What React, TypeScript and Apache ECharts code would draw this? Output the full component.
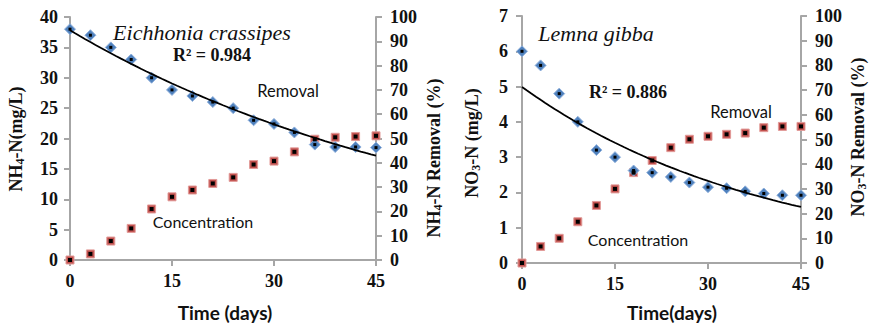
import React, { useEffect, useRef } from "react";
import * as echarts from "echarts";

const DAYS = [0, 3, 6, 9, 12, 15, 18, 21, 24, 27, 30, 33, 36, 39, 42, 45];
const NH4_CONC = [38, 37, 35, 33, 30, 28, 27, 26, 25, 23, 22.4, 21, 19, 18.6, 18.6, 18.5];
const NH4_REMOVAL = [0, 2.5, 7.8, 13, 21, 26, 28.8, 31.5, 34, 39.3, 40.7, 44.5, 49.7, 50.5, 50.8, 51.1];
const NO3_CONC = [6, 5.6, 4.8, 4, 3.2, 3, 2.62, 2.56, 2.44, 2.28, 2.15, 2.12, 2.03, 1.97, 1.92, 1.92];
const NO3_REMOVAL = [0, 6.7, 10, 16.7, 23.3, 30, 36.6, 41.5, 46.7, 50.1, 51.3, 52.1, 52.6, 54.8, 55.3, 55.3];
const X_TICKS = [0, 15, 30, 45];

const SERIF = "'Liberation Serif', 'Times New Roman', serif";
const SANS = "Lato, 'Open Sans', sans-serif";
const AXIS_COLOR = "#a6a6a6";

function expFit(xs: number[], ys: number[]) {
  const n = xs.length;
  const ls = ys.map((v) => Math.log(v));
  const mx = xs.reduce((a, b) => a + b, 0) / n;
  const ml = ls.reduce((a, b) => a + b, 0) / n;
  let num = 0, den = 0;
  for (let i = 0; i < n; i++) {
    num += (xs[i] - mx) * (ls[i] - ml);
    den += (xs[i] - mx) * (xs[i] - mx);
  }
  const b = num / den;
  const a = Math.exp(ml - b * mx);
  const pts: number[][] = [];
  const x0 = xs[0], x1 = xs[n - 1];
  for (let i = 0; i <= 60; i++) {
    const x = x0 + ((x1 - x0) * i) / 60;
    pts.push([x, a * Math.exp(b * x)]);
  }
  return pts;
}

const pairs = (ys: number[]) => DAYS.map((d, i) => [d, ys[i]]);

function xAxis(gridIndex: number) {
  return {
    type: "value",
    gridIndex,
    min: 0,
    max: 45,
    interval: 15,
    axisLine: { show: true, lineStyle: { color: AXIS_COLOR, width: 2 } },
    axisTick: { show: true, length: 6, lineStyle: { color: AXIS_COLOR, width: 2 } },
    axisLabel: {
      margin: 12,
      fontFamily: SERIF,
      fontWeight: "bold",
      fontSize: 18,
      color: "#111",
      formatter: (v: number) => (X_TICKS.includes(v) ? String(v) : ""),
    },
    splitLine: { show: false },
  };
}

function yAxis(gridIndex: number, max: number, interval: number, position: string, margin: number) {
  return {
    type: "value",
    gridIndex,
    min: 0,
    max,
    interval,
    position,
    axisLine: { show: true, onZero: false, lineStyle: { color: AXIS_COLOR, width: 2 } },
    axisTick: { show: true, length: 6, lineStyle: { color: AXIS_COLOR, width: 2 } },
    axisLabel: {
      margin,
      fontFamily: SERIF,
      fontWeight: "bold",
      fontSize: 18,
      color: "#111",
    },
    splitLine: { show: false },
  };
}

function markerSeries(xi: number, yi: number, data: number[][], shape: string) {
  const isDiamond = shape === "diamond";
  return [
    {
      type: "scatter",
      xAxisIndex: xi,
      yAxisIndex: yi,
      data,
      symbol: shape,
      symbolSize: isDiamond ? 11 : 8,
      itemStyle: {
        color: isDiamond ? "#4f81bd" : "#c0504d",
        borderColor: isDiamond ? "#8fb0dc" : "#e29a98",
        borderWidth: 1,
        opacity: 1,
      },
      z: 3,
    },
    {
      type: "scatter",
      xAxisIndex: xi,
      yAxisIndex: yi,
      data,
      symbol: "rect",
      symbolSize: isDiamond ? 3 : 4,
      itemStyle: { color: "#000", opacity: 1 },
      z: 4,
    },
  ];
}

function trendSeries(xi: number, yi: number, ys: number[]) {
  return {
    type: "line",
    xAxisIndex: xi,
    yAxisIndex: yi,
    data: expFit(DAYS, ys),
    showSymbol: false,
    smooth: false,
    lineStyle: { color: "#000", width: 1.8 },
    z: 5,
  };
}

function txt(x: number, y: number, text: string, font: any, rotate = 0, rich?: any) {
  return {
    type: "text",
    x,
    y,
    rotation: rotate,
    style: {
      text,
      x: 0,
      y: 0,
      align: "center",
      verticalAlign: "middle",
      fill: "#111",
      ...font,
      rich,
    },
    z: 10,
  };
}

const serifBold = { fontFamily: SERIF, fontWeight: "bold", fontSize: 18 };
const subRich = {
  n: { fontFamily: SERIF, fontWeight: "bold", fontSize: 18, lineHeight: 20, verticalAlign: "middle", fill: "#111" },
  s: { fontFamily: SERIF, fontWeight: "bold", fontSize: 12, lineHeight: 10, verticalAlign: "bottom", fill: "#111" },
};

export default function App() {
  const ref = useRef<HTMLDivElement>(null);
  useEffect(() => {
    if (!ref.current) return;
    const chart = echarts.init(ref.current, undefined, { renderer: "svg" });
    chart.setOption({
      animation: false,
      backgroundColor: "#fff",
      grid: [
        { left: 70, right: 870 - 376, top: 17, bottom: 326 - 260, containLabel: false },
        { left: 522, right: 870 - 801, top: 16, bottom: 326 - 263, containLabel: false },
      ],
      xAxis: [xAxis(0), xAxis(1)],
      yAxis: [
        yAxis(0, 40, 5, "left", 12),
        yAxis(0, 100, 10, "right", 14),
        yAxis(1, 7, 1, "left", 14),
        yAxis(1, 100, 10, "right", 14),
      ],
      series: [
        ...markerSeries(0, 1, pairs(NH4_REMOVAL), "rect"),
        ...markerSeries(0, 0, pairs(NH4_CONC), "diamond"),
        trendSeries(0, 0, NH4_CONC),
        ...markerSeries(1, 3, pairs(NO3_REMOVAL), "rect"),
        ...markerSeries(1, 2, pairs(NO3_CONC), "diamond"),
        trendSeries(1, 2, NO3_CONC),
      ],
      graphic: [
        txt(16, 139, "{n|NH}{s|4}{n|-N(mg/L)}", serifBold, Math.PI / 2, subRich),
        txt(434, 158, "{n|NH}{s|4}{n|-N Removal (%)}", serifBold, Math.PI / 2, subRich),
        txt(472, 143, "{n|NO}{s|3}{n|-N (mg/L)}", serifBold, Math.PI / 2, subRich),
        txt(858, 137, "{n|NO}{s|3}{n|-N Removal (%)}", serifBold, Math.PI / 2, subRich),
        txt(202, 32, "Eichhonia crassipes", { fontFamily: SERIF, fontStyle: "italic", fontSize: 22 }),
        txt(212, 55, "R² = 0.984", { fontFamily: SERIF, fontWeight: "bold", fontSize: 18 }),
        txt(596, 33, "Lemna gibba", { fontFamily: SERIF, fontStyle: "italic", fontSize: 22 }),
        txt(628, 92, "R² = 0.886", { fontFamily: SERIF, fontWeight: "bold", fontSize: 18 }),
        txt(288, 91, "Removal", { fontFamily: SANS, fontSize: 16.5 }),
        txt(203, 221, "Concentration", { fontFamily: SANS, fontSize: 16 }),
        txt(741, 112, "Removal", { fontFamily: SANS, fontSize: 16.5 }),
        txt(638, 239, "Concentration", { fontFamily: SANS, fontSize: 16 }),
        txt(225, 312, "Time (days)", { fontFamily: SANS, fontWeight: "bold", fontSize: 19 }),
        txt(672, 312, "Time(days)", { fontFamily: SANS, fontWeight: "bold", fontSize: 19 }),
      ],
    });
    return () => chart.dispose();
  }, []);
  return (
    <div
      ref={ref}
      style={{ position: "fixed", left: 0, top: 0, width: 870, height: 326 }}
    />
  );
}
